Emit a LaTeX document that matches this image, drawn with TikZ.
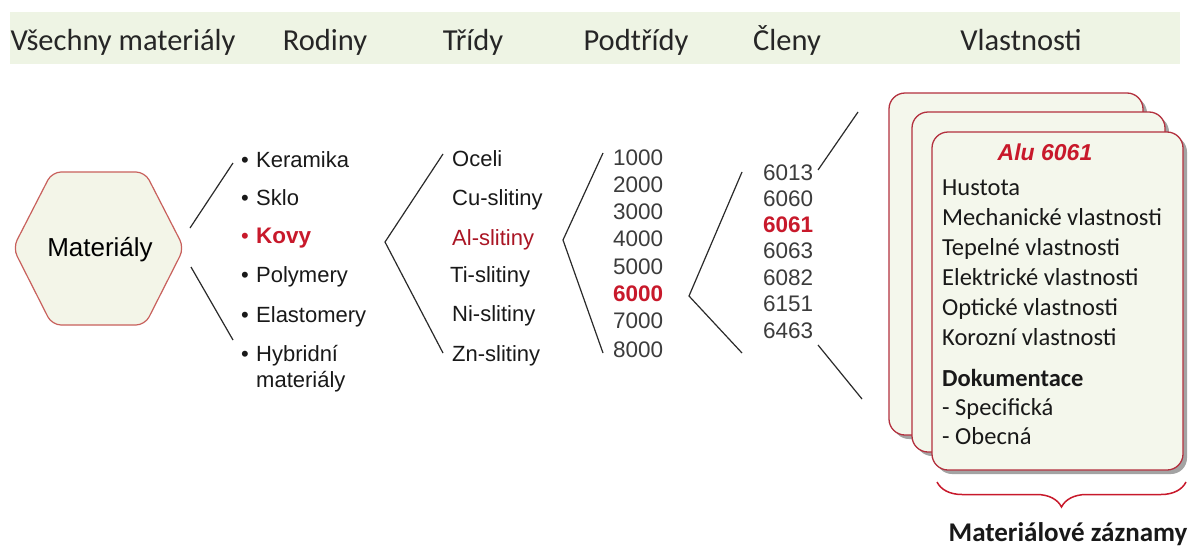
\documentclass[tikz,border=0pt]{standalone}
\usepackage{fontspec}
\setmainfont{Carlito}
\newfontfamily\arialf{Liberation Sans}
\usetikzlibrary{shadows,decorations.pathreplacing}
\definecolor{band}{HTML}{EEF4E4}
\definecolor{hexfill}{HTML}{F3F5E8}
\definecolor{hexdraw}{HTML}{C8605C}
\definecolor{cardfill}{HTML}{F4F7EC}
\definecolor{carddraw}{HTML}{B3303E}
\definecolor{hot}{HTML}{C8192B}
\definecolor{digit}{HTML}{3C3C3C}
\definecolor{ink}{HTML}{2A2A2A}
\tikzset{
  head/.style={anchor=base, inner sep=0pt, font=\fontsize{30.5}{34}\selectfont, text=black!85},
  item/.style={anchor=base west, inner sep=0pt, font=\arialf\fontsize{22}{26}\selectfont, text=black!90},
  num/.style={anchor=base west, inner sep=0pt, font=\arialf\fontsize{22.5}{26}\selectfont, text=digit},
  prop/.style={anchor=base west, inner sep=0pt, font=\fontsize{24.5}{28}\selectfont, text=black!90},
  hotb/.style={text=hot, font=\arialf\bfseries\fontsize{22.5}{26}\selectfont},
  bracket/.style={draw=ink, line width=1.2pt},
  card/.style={draw=carddraw, line width=1.3pt, fill=cardfill, rounded corners=16pt,
    drop shadow={shadow xshift=4pt, shadow yshift=-4pt, fill=black!45, opacity=0.8}},
}
\begin{document}
\begin{tikzpicture}[x=1pt,y=-1pt]
\useasboundingbox (0,0) rectangle (1188,549);
\fill[white] (0,0) rectangle (1188,549);

% column heads
\fill[band] (10,12) rectangle (1180,64);
\node[head] (h1) at (123,50) {Všechny materiály};
\node[head] (h2) at (325,50) {Rodiny};
\node[head] (h3) at (473,50) {Třídy};
\node[head] (h4) at (636,50) {Podtřídy};
\node[head] (h5) at (787,50) {Členy};
\node[head] (h6) at (1021,50) {Vlastnosti};

% root hexagon
\draw[draw=hexdraw, line width=1.2pt, fill=hexfill, rounded corners=9pt]
  (13,248) -- (52,172) -- (145,172) -- (184,248) -- (145,325) -- (52,325) -- cycle;
\node[anchor=base, inner sep=0pt, font=\arialf\fontsize{26}{30}\selectfont] (mat) at (100,256) {Materiály};

% families
\node[item] (b1) at (241,167) {•};
\node[item] (f1) at (256,167) {Keramika};
\node[item] (b2) at (241,205) {•};
\node[item] (f2) at (256,205) {Sklo};
\node[item, text=hot] (b3) at (241,243) {•};
\node[item, text=hot, font=\arialf\bfseries\fontsize{22.5}{26}\selectfont] (f3) at (256,243) {Kovy};
\node[item] (b4) at (241,282) {•};
\node[item] (f4) at (256,282) {Polymery};
\node[item] (b5) at (241,322) {•};
\node[item] (f5) at (256,322) {Elastomery};
\node[item] (b6) at (241,361) {•};
\node[item] (f6) at (256,361) {Hybridní};
\node[item] (f6b) at (256,387) {materiály};

% classes
\node[item] (c1) at (452,166) {Oceli};
\node[item] (c2) at (452,205) {Cu-slitiny};
\node[item, text=hot!85!black] (c3) at (452,245) {Al-slitiny};
\node[item] (c4) at (450,282) {Ti-slitiny};
\node[item] (c5) at (452,321) {Ni-slitiny};
\node[item] (c6) at (452,361) {Zn-slitiny};

% subclasses
\node[num] (s1) at (613,165) {1000};
\node[num] (s2) at (613,192) {2000};
\node[num] (s3) at (613,219) {3000};
\node[num] (s4) at (613,246) {4000};
\node[num] (s5) at (613,274) {5000};
\node[num, hotb] (s6) at (613,301) {6000};
\node[num] (s7) at (613,328) {7000};
\node[num] (s8) at (613,357) {8000};

% members
\node[num] (m1) at (763,180) {6013};
\node[num] (m2) at (763,206) {6060};
\node[num, hotb] (m3) at (763,232) {6061};
\node[num] (m4) at (763,258) {6063};
\node[num] (m5) at (763,285) {6082};
\node[num] (m6) at (763,311) {6151};
\node[num] (m7) at (763,338) {6463};

% record cards
\node[card, minimum width=254pt, minimum height=342pt] (k1) at (1016,264) {};
\node[card, minimum width=253pt, minimum height=340pt] (k2) at (1038.5,282) {};
\node[card, minimum width=251pt, minimum height=338pt] (k3) at (1057.5,301) {};
\node[anchor=base, inner sep=0pt, text=hot, font=\arialf\bfseries\itshape\fontsize{23}{26}\selectfont] (alu) at (1045,160) {Alu 6061};
\node[prop] (p1) at (942,195) {Hustota};
\node[prop] (p2) at (942,225) {Mechanické vlastnosti};
\node[prop] (p3) at (942,255) {Tepelné vlastnosti};
\node[prop] (p4) at (942,285) {Elektrické vlastnosti};
\node[prop] (p5) at (942,315) {Optické vlastnosti};
\node[prop] (p6) at (942,345) {Korozní vlastnosti};
\node[prop, font=\bfseries\fontsize{24.5}{28}\selectfont] (p7) at (942,386) {Dokumentace};
\node[prop] (p8) at (942,415) {- Specifická};
\node[prop] (p9) at (942,444) {- Obecná};

% brace under the cards
\coordinate (brL) at (937,482);
\coordinate (brR) at (1186,482);
\draw[hot, line width=1.5pt, decorate, decoration={brace, mirror, amplitude=25pt}] (brL) -- (brR);
\node[anchor=base, inner sep=0pt, font=\bfseries\fontsize{27}{30}\selectfont, text=black!90] (rec) at (1068,541) {Materiálové záznamy};

% bracket strokes between the columns
\coordinate (ma1) at (190,228); \coordinate (mb1) at (233,163);
\coordinate (ma2) at (191,267); \coordinate (mb2) at (233,340);
\draw[bracket] (ma1) -- (mb1);
\draw[bracket] (ma2) -- (mb2);

\coordinate (ra) at (385,242); \coordinate (rt) at (443,154); \coordinate (rb) at (443,353);
\draw[bracket] (rt) -- (ra) -- (rb);

\coordinate (ta) at (563,240); \coordinate (tt) at (603,153); \coordinate (tb) at (603,353);
\draw[bracket] (tt) -- (ta) -- (tb);

\coordinate (pa) at (689,296); \coordinate (pt) at (742,172); \coordinate (pb) at (742,353);
\draw[bracket] (pt) -- (pa) -- (pb);

\coordinate (ca1) at (818,170); \coordinate (cb1) at (858,112);
\coordinate (ca2) at (818,345); \coordinate (cb2) at (862,399);
\draw[bracket] (ca1) -- (cb1);
\draw[bracket] (ca2) -- (cb2);
\end{tikzpicture}
\end{document}
